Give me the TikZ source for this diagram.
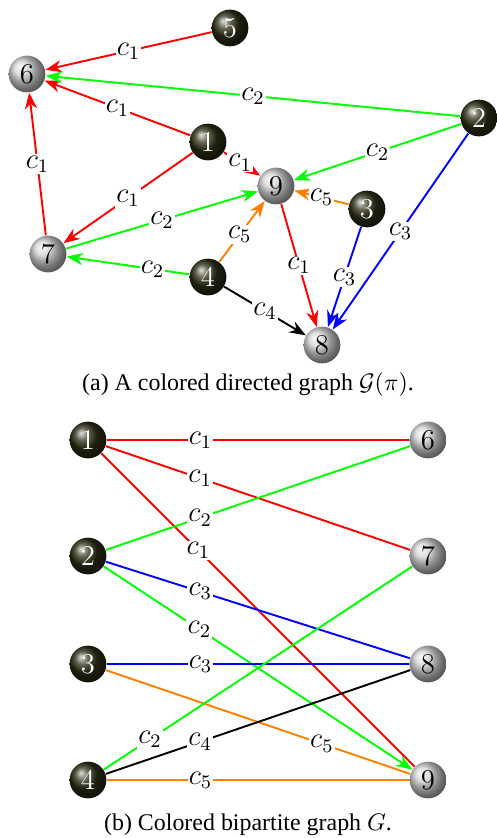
\documentclass[tikz,border=0pt]{standalone}
\usepackage{amsmath,amssymb}
\usepackage{fontspec}
\setmainfont{Liberation Serif}
\usetikzlibrary{arrows.meta}

\begin{document}
\begin{tikzpicture}[x=0.0147cm,y=-0.0147cm]

% ---- Styles ----
\tikzset{
  left/.style={circle, ball color={rgb,255:red,45;green,45;blue,20}, text=white,
               minimum size=0.54cm, inner sep=0pt, font=\large},
  right/.style={circle, ball color=gray!35, text=black,
                minimum size=0.54cm, inner sep=0pt, font=\large},
  lbl/.style={fill=white, text=black, inner sep=0.5pt, font=\large},
  arc/.style={thick, -{Stealth[length=2.4mm,width=1.8mm]}},
  link/.style={thick},
}

\useasboundingbox (0,0) rectangle (496,838);

% --- (a) directed graph ---
\node[left]  (a5) at (230,28)  {$5$};
\node[right] (a6) at (27,74)   {$6$};
\node[left]  (a1) at (208,142) {$1$};
\node[left]  (a2) at (479,118) {$2$};
\node[right] (a9) at (276,186) {$9$};
\node[left]  (a3) at (367,209) {$3$};
\node[right] (a7) at (48,254)  {$7$};
\node[left]  (a4) at (208,277) {$4$};
\node[right] (a8) at (322,345) {$8$};

\draw[arc,red]    (a5) -- node[lbl] {$c_1$} (a6);
\draw[arc,red]    (a1) -- node[lbl] {$c_1$} (a6);
\draw[arc,green]  (a2) -- node[lbl] {$c_2$} (a6);
\draw[arc,red]    (a7) -- node[lbl] {$c_1$} (a6);
\draw[arc,red]    (a1) -- node[lbl,pos=0.45] {$c_1$} (a9);
\draw[arc,red]    (a1) -- node[lbl] {$c_1$} (a7);
\draw[arc,green]  (a2) -- node[lbl] {$c_2$} (a9);
\draw[arc,green]  (a7) -- node[lbl] {$c_2$} (a9);
\draw[arc,orange] (a3) -- node[lbl] {$c_5$} (a9);
\draw[arc,orange] (a4) -- node[lbl,pos=0.45] {$c_5$} (a9);
\draw[arc,green]  (a4) -- node[lbl,pos=0.3] {$c_2$} (a7);
\draw[arc,red]    (a9) -- node[lbl] {$c_1$} (a8);
\draw[arc,blue]   (a3) -- node[lbl] {$c_3$} (a8);
\draw[arc,blue]   (a2) -- node[lbl] {$c_3$} (a8);
\draw[arc,black]  (a4) -- node[lbl] {$c_4$} (a8);

\node (capa) at (248,385) {(a) A colored directed graph $\mathcal{G}(\pi)$.};

% --- (b) bipartite graph ---
\foreach \n/\y in {1/440,2/556,3/664,4/780}
  \node[left] (b\n) at (88,\y) {$\n$};
\foreach \n/\y in {6/440,7/556,8/664,9/780}
  \node[right] (b\n) at (428,\y) {$\n$};

\draw[link,red]    (b1) -- node[lbl,pos=0.31] {$c_1$} (b6);
\draw[link,red]    (b1) -- node[lbl,pos=0.31] {$c_1$} (b7);
\draw[link,red]    (b1) -- node[lbl,pos=0.31] {$c_1$} (b9);
\draw[link,green]  (b2) -- node[lbl,pos=0.31] {$c_2$} (b6);
\draw[link,blue]   (b2) -- node[lbl,pos=0.31] {$c_3$} (b8);
\draw[arc,green]   (b2) -- node[lbl,pos=0.31] {$c_2$} (b9);
\draw[link,blue]   (b3) -- node[lbl,pos=0.31] {$c_3$} (b8);
\draw[link,orange] (b3) -- node[lbl,pos=0.71] {$c_5$} (b9);
\draw[link,green]  (b4) -- node[lbl,pos=0.15] {$c_2$} (b7);
\draw[link,black]  (b4) -- node[lbl,pos=0.31] {$c_4$} (b8);
\draw[link,orange] (b4) -- node[lbl,pos=0.31] {$c_5$} (b9);

\node (capb) at (248,825) {(b) Colored bipartite graph $G$.};

\end{tikzpicture}
\end{document}
